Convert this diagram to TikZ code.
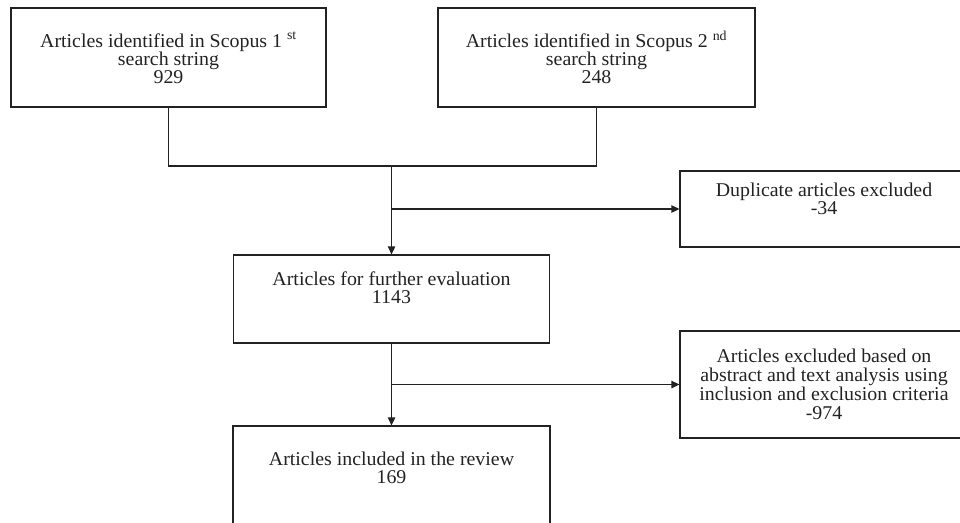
\documentclass[tikz,border=0pt]{standalone}
\usepackage{fontspec}
\setmainfont{Liberation Serif}[FakeStretch=1.02]
\usetikzlibrary{arrows.meta}
\definecolor{ink}{HTML}{222222}
\begin{document}
\begin{tikzpicture}[x=1pt,y=-1pt,
  box/.style={draw=ink, line width=1.3pt, inner sep=0pt, align=center, text=ink,
    font=\fontsize{19.5}{18}\selectfont},
  conn/.style={draw=ink, line width=1.3pt},
  arr/.style={conn, -{Triangle[length=8pt,width=7.5pt]}}]
\useasboundingbox (0,0) rectangle (960,522);
\node[box, minimum width=315pt, minimum height=99pt] (s1) at (168.5,57.5)
  {Articles identified in Scopus 1 \textsuperscript{st}\\ search string\\ 929};
\node[box, minimum width=317pt, minimum height=99pt] (s2) at (596.5,57.5)
  {Articles identified in Scopus 2 \textsuperscript{nd}\\ search string\\ 248};
\node[box, minimum width=316pt, minimum height=88pt] (ev) at (391.5,299)
  {Articles for further evaluation\\ 1143\\[4pt]};
\node[box, minimum width=288pt, minimum height=76pt] (dup) at (824,209)
  {Duplicate articles excluded\\ -34\\[2pt]};
\node[box, minimum width=288pt, minimum height=107pt] (exc) at (824,384.5)
  {Articles excluded based on\\[1pt] abstract and text analysis using\\[1pt] inclusion and exclusion criteria\\[1pt] -974};
\node[box, minimum width=317pt, minimum height=110pt] (inc) at (391.5,481)
  {Articles included in the review\\ 169\\[8pt]};
\coordinate (lvl) at (0,166);
\coordinate (j1) at (ev.north |- lvl);
\coordinate (j2) at (ev.south |- exc.west);
\draw[conn] (s1.south) -- (s1.south |- lvl) -- (s2.south |- lvl) -- (s2.south);
\draw[arr] (j1) -- (ev.north);
\draw[arr] (ev.north |- dup.west) -- (dup.west);
\draw[arr] (ev.south) -- (inc.north);
\draw[arr] (j2) -- (exc.west);
\end{tikzpicture}
\end{document}
